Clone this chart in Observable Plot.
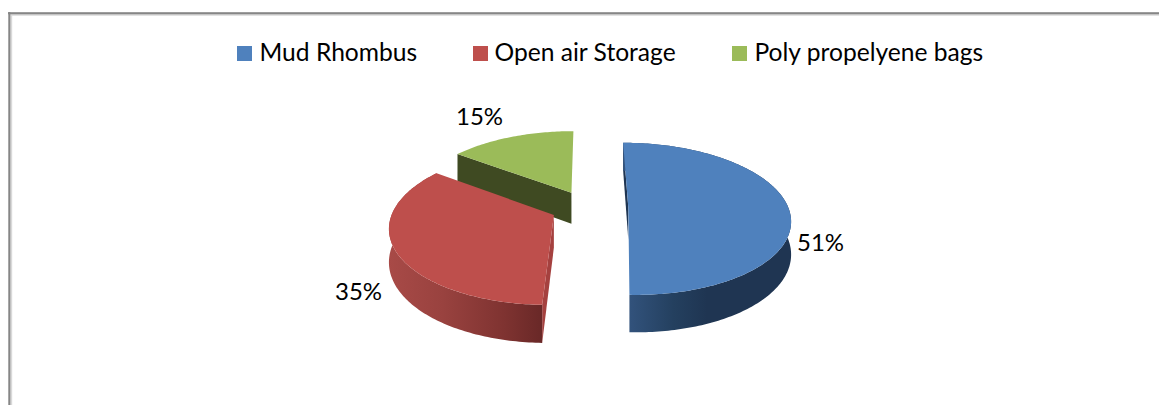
<!DOCTYPE html>
<html>
<head>
<meta charset="utf-8">
<script src="https://cdn.jsdelivr.net/npm/d3@7"></script>
<script src="https://cdn.jsdelivr.net/npm/@observablehq/plot@0.6"></script>
<style>
html,body{margin:0;padding:0;background:#fff;overflow:hidden}
svg{display:block}
</style>
</head>
<body>
<div id="chart"></div>
<script>
const categories = ["Mud Rhombus", "Open air Storage", "Poly propelyene bags"];
const values = [51, 35, 15];
const topColors = ["#4F81BD", "#BE4F4C", "#9BBB59"];
const radialColors = ["#1F3552", "#A5413F", "#3F4A22"];
const explodes = [0.255, 0.23, 0.23];
const legendSwatchX = [237, 473, 732];
const legendTextX = [259, 494, 754];
const labelX = [820, 358, 479];
const labelY = [243, 292, 117];

// Perspective 3-D pie model
const W = 1159, H = 405;
const view = {cx: 587, cy: 207, A: 160, B: 74.4, k: 0.145, depth: 32};
const project = (X, Z, down) => {
  const s = 1 + view.k * Z;
  return {x: view.cx + view.A * X / s, y: view.cy - view.B * Z / s + (down ? view.depth / s : 0)};
};
const arcs = d3.pie().sort(null).value(d => d)(values);
const slices = arcs.map((a, idx) => {
  const mid = (a.startAngle + a.endAngle) / 2;
  const ox = explodes[idx] * Math.sin(mid), oz = explodes[idx] * Math.cos(mid);
  const rim = (t, down) => project(ox + Math.sin(t), oz + Math.cos(t), down);
  const apex = down => project(ox, oz, down);
  const n = Math.ceil((a.endAngle - a.startAngle) * 180 / Math.PI);
  const ts = d3.range(n + 1).map(i => a.startAngle + (a.endAngle - a.startAngle) * i / n);
  return {
    top: [apex(false), ...ts.map(t => rim(t, false))],
    outer: [...ts.map(t => rim(t, false)), ...ts.slice().reverse().map(t => rim(t, true))],
    startWall: [apex(false), rim(a.startAngle, false), rim(a.startAngle, true), apex(true)],
    endWall: [apex(false), rim(a.endAngle, false), rim(a.endAngle, true), apex(true)]
  };
});
const poly = (pts, fill) => Plot.line(pts, {x: "x", y: "y", fill, stroke: "none"});

const defs = () => {
  const ns = "http://www.w3.org/2000/svg";
  const d = document.createElementNS(ns, "defs");
  const grads = {
    blueRim: [[0, "#345580"], [0.3, "#24405F"], [0.5, "#1F3552"], [1, "#1F3552"]],
    redRim: [[0, "#A84A47"], [0.35, "#99423F"], [0.75, "#7F3331"], [1, "#692827"]]
  };
  for (const [id, stops] of Object.entries(grads)) {
    const g = document.createElementNS(ns, "linearGradient");
    g.setAttribute("id", id);
    for (const [o, c] of stops) {
      const s = document.createElementNS(ns, "stop");
      s.setAttribute("offset", o);
      s.setAttribute("stop-color", c);
      g.appendChild(s);
    }
    d.appendChild(g);
  }
  return d;
};

const font = "Lato, Carlito, Calibri, sans-serif";
const chart = Plot.plot({
  width: W, height: H,
  margin: 0,
  x: {domain: [0, W], range: [0, W], axis: null},
  y: {domain: [0, H], range: [0, H], axis: null},
  style: {background: "#fff", fontFamily: font},
  marks: [
    defs,
    Plot.ruleY([13.5], {x1: 9, x2: W, stroke: "#d9d9d9", strokeWidth: 3.4}),
    Plot.ruleX([10], {y1: 13, y2: H, stroke: "#d9d9d9", strokeWidth: 3.4}),
    Plot.ruleY([12.8], {x1: 8, x2: W, stroke: "#868686", strokeWidth: 2}),
    Plot.ruleX([8.8], {y1: 12, y2: H, stroke: "#868686", strokeWidth: 2}),
    // green
    poly(slices[2].startWall, radialColors[2]),
    poly(slices[2].top, topColors[2]),
    // red
    poly(slices[1].startWall, radialColors[1]),
    poly(slices[1].outer, "url(#redRim)"),
    poly(slices[1].top, topColors[1]),
    // blue
    poly(slices[0].startWall, radialColors[0]),
    poly(slices[0].outer, "url(#blueRim)"),
    poly(slices[0].top, topColors[0]),
    // legend
    Plot.rect(categories, {
      x1: (d, i) => legendSwatchX[i], x2: (d, i) => legendSwatchX[i] + 15,
      y1: 46, y2: 61, fill: (d, i) => topColors[i]
    }),
    Plot.text(categories, {
      x: (d, i) => legendTextX[i], y: 53, text: d => d, textAnchor: "start",
      fontSize: 24.6, fill: "#000", lineAnchor: "middle"
    }),
    // data labels
    Plot.text(values, {
      x: (d, i) => labelX[i], y: (d, i) => labelY[i], text: d => `${d}%`,
      fontSize: 24, fill: "#000", lineAnchor: "middle"
    })
  ]
});
document.getElementById("chart").appendChild(chart);
</script>
</body>
</html>
